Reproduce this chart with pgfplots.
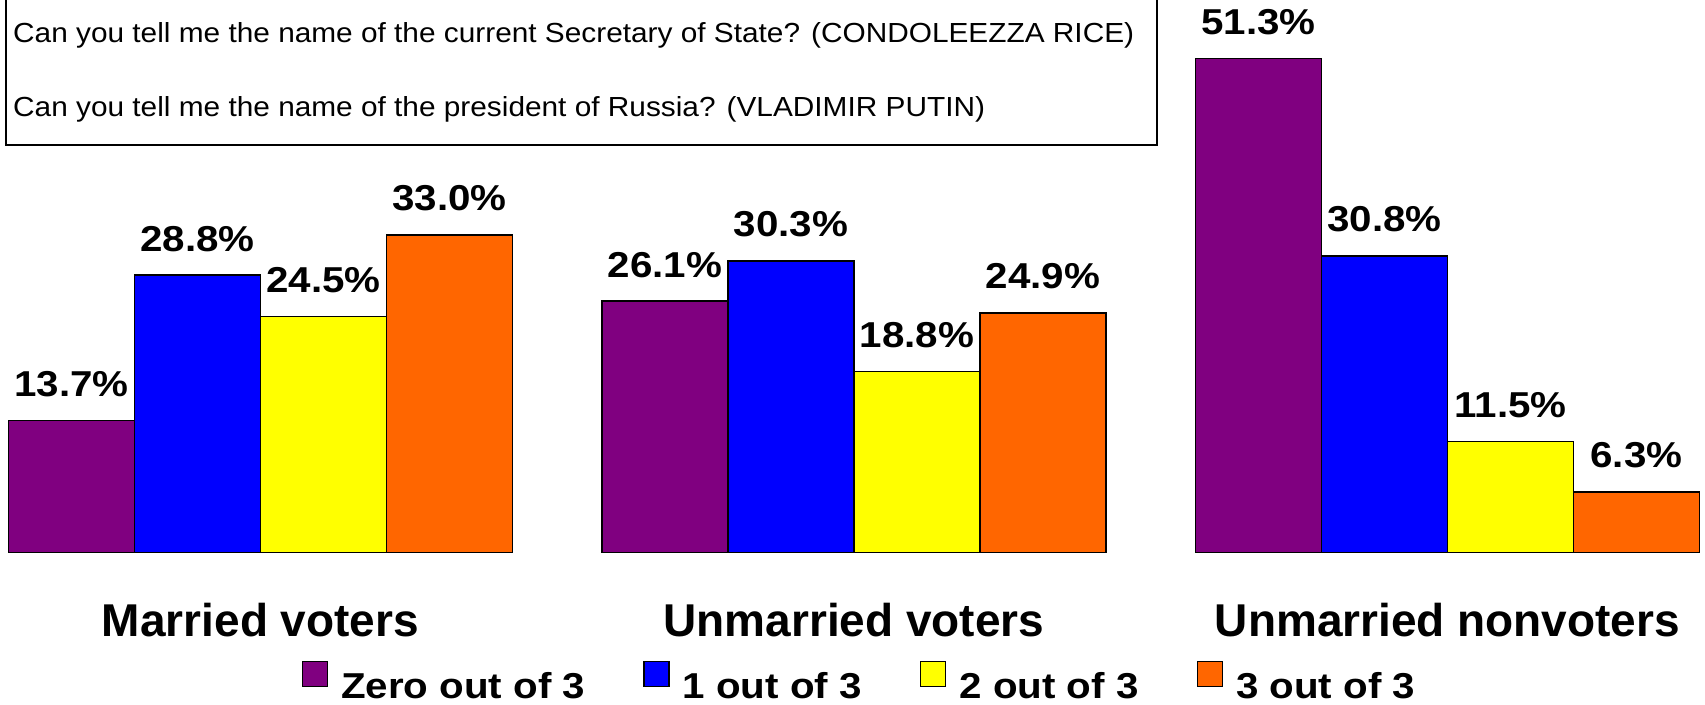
\documentclass[border=0pt]{standalone}
\usepackage{pgfplots}
\pgfplotsset{compat=1.18}
\usepackage{fontspec}
\setmainfont{Liberation Sans}
\newfontfamily\sfx{Liberation Sans}[FakeStretch=1.12]
\newfontfamily\sfq{Liberation Sans}[FakeStretch=1.08]
\definecolor{cpurple}{HTML}{800080}
\definecolor{cblue}{HTML}{0000FF}
\definecolor{cyellow}{HTML}{FFFF00}
\definecolor{corange}{HTML}{FF6600}
\begin{document}
\begin{tikzpicture}
\begin{axis}[
 scale only axis, width=852.5pt, height=276.2pt,
 xmin=-0.4389, xmax=2.434, ymin=0, ymax=57.4,
 ybar=0pt, bar width=63pt,
 axis line style={draw=none}, tick style={draw=none},
 ytick=\empty, xtick={0,1,2},
 xticklabels={Married voters, Unmarried voters, Unmarried nonvoters},
 xticklabel style={font=\fontsize{23}{27}\selectfont\bfseries, anchor=base, yshift=-37.8pt, inner sep=0pt},
 clip=false,
 nodes near coords={\pgfmathprintnumber[fixed,fixed zerofill,precision=1,assume math mode=true]{\pgfplotspointmeta}\%},
 every node near coord/.append style={font=\fontsize{18}{21}\sfx\bfseries, anchor=south, inner sep=0pt, yshift=11.5pt, text=black},
 legend columns=4,
 legend style={at={(axis description cs:0.5035,-0.2698)}, anchor=south, draw=none, fill=none, inner sep=0pt, font=\fontsize{18}{21}\sfx\bfseries, nodes={inner sep=0pt}, /tikz/every odd column/.append style={column sep=6.5pt}, /tikz/every even column/.append style={column sep=29pt}},
 legend image code/.code={\draw[#1] (0pt,0pt) rectangle (12.5pt,12.5pt);},
]
\addplot[fill=cpurple, draw=black, line width=0.75pt] coordinates {(0,13.7) (1,26.1) (2,51.3)};
\addplot[fill=cblue, draw=black, line width=0.75pt] coordinates {(0,28.8) (1,30.3) (2,30.8)};
\addplot[fill=cyellow, draw=black, line width=0.75pt] coordinates {(0,24.5) (1,18.8) (2,11.5)};
\addplot[fill=corange, draw=black, line width=0.75pt] coordinates {(0,33.0) (1,24.9) (2,6.3)};
\legend{Zero out of 3, 1 out of 3, 2 out of 3, 3 out of 3}
\draw[line width=1pt] (axis description cs:0.0035,1.02) -- (axis description cs:0.0035,0.7375) -- (axis description cs:0.6786,0.7375) -- (axis description cs:0.6786,1.02);
\node[anchor=base west, font=\fontsize{13.8}{16}\sfq, inner sep=0pt] at (axis description cs:0.0075,0.9222) {Can you tell me the name of the current Secretary of State? (CONDOLEEZZA RICE)};
\node[anchor=base west, font=\fontsize{13.8}{16}\sfq, inner sep=0pt] at (axis description cs:0.0075,0.7882) {Can you tell me the name of the president of Russia? (VLADIMIR PUTIN)};
\end{axis}
\pgfresetboundingbox
\path[use as bounding box] ([yshift=-76.3pt]current axis.south west) rectangle (current axis.north east);
\end{tikzpicture}
\end{document}
